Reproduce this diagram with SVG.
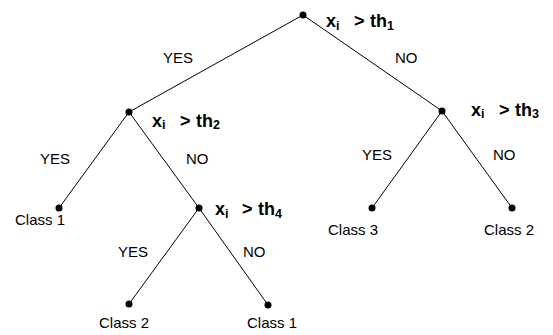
<svg xmlns="http://www.w3.org/2000/svg" width="553" height="335" viewBox="0 0 553 335">
  <style>
    .edge { stroke: #000; stroke-width: 1; fill: none; }
    .dot { fill: #000; }
    .cond { font-family: "Liberation Sans", Arial, sans-serif; font-size: 18px; font-weight: bold; fill: #000; }
    .sub { font-size: 12.5px; }
    .ans { font-family: "Liberation Sans", Arial, sans-serif; font-size: 15px; fill: #000; }
  </style>
  <rect width="553" height="335" fill="#fff"/>

  <g id="connectors">
    <line class="edge" x1="303" y1="15" x2="129" y2="112"/>
    <line class="edge" x1="303" y1="15" x2="442" y2="111"/>
    <line class="edge" x1="129" y1="112" x2="59" y2="208"/>
    <line class="edge" x1="129" y1="112" x2="199" y2="208"/>
    <line class="edge" x1="442" y1="111" x2="372" y2="208"/>
    <line class="edge" x1="442" y1="111" x2="512" y2="208"/>
    <line class="edge" x1="199" y1="208" x2="129" y2="304"/>
    <line class="edge" x1="199" y1="208" x2="268" y2="305"/>
    <text class="ans" x="163" y="63">YES</text>
    <text class="ans" x="395" y="63">NO</text>
    <text class="ans" x="40" y="164">YES</text>
    <text class="ans" x="186" y="164">NO</text>
    <text class="ans" x="362" y="160">YES</text>
    <text class="ans" x="493" y="160">NO</text>
    <text class="ans" x="118" y="257">YES</text>
    <text class="ans" x="243" y="257">NO</text>
  </g>

  <g id="n1">
    <circle class="dot" cx="303" cy="15" r="3.5"/>
    <text class="cond" y="27"><tspan x="326">x</tspan><tspan class="sub" dy="2.5">i</tspan><tspan x="354" dy="-2.5">&gt;</tspan><tspan x="370">th</tspan><tspan class="sub" dy="2.5">1</tspan></text>
  </g>
  <g id="n2">
    <circle class="dot" cx="129" cy="112" r="3.5"/>
    <text class="cond" y="126.5"><tspan x="152">x</tspan><tspan class="sub" dy="2.5">i</tspan><tspan x="180" dy="-2.5">&gt;</tspan><tspan x="196">th</tspan><tspan class="sub" dy="2.5">2</tspan></text>
  </g>
  <g id="n3">
    <circle class="dot" cx="442" cy="111" r="3.5"/>
    <text class="cond" y="116"><tspan x="471">x</tspan><tspan class="sub" dy="1.5">i</tspan><tspan x="499" dy="-1.5">&gt;</tspan><tspan x="515">th</tspan><tspan class="sub" dy="1.5">3</tspan></text>
  </g>
  <g id="n4">
    <circle class="dot" cx="199" cy="208" r="3.5"/>
    <text class="cond" y="215"><tspan x="215">x</tspan><tspan class="sub" dy="2.5">i</tspan><tspan x="242" dy="-2.5">&gt;</tspan><tspan x="258">th</tspan><tspan class="sub" dy="2.5">4</tspan></text>
  </g>

  <g id="leaf-class1-a">
    <circle class="dot" cx="59" cy="208" r="3.5"/>
    <text class="ans" x="15" y="225">Class 1</text>
  </g>
  <g id="leaf-class3">
    <circle class="dot" cx="372" cy="208" r="3.5"/>
    <text class="ans" x="328" y="235">Class 3</text>
  </g>
  <g id="leaf-class2-a">
    <circle class="dot" cx="512" cy="208" r="3.5"/>
    <text class="ans" x="484" y="235">Class 2</text>
  </g>
  <g id="leaf-class2-b">
    <circle class="dot" cx="129" cy="304" r="3.5"/>
    <text class="ans" x="99" y="328">Class 2</text>
  </g>
  <g id="leaf-class1-b">
    <circle class="dot" cx="268" cy="305" r="3.5"/>
    <text class="ans" x="247" y="328">Class 1</text>
  </g>
</svg>
